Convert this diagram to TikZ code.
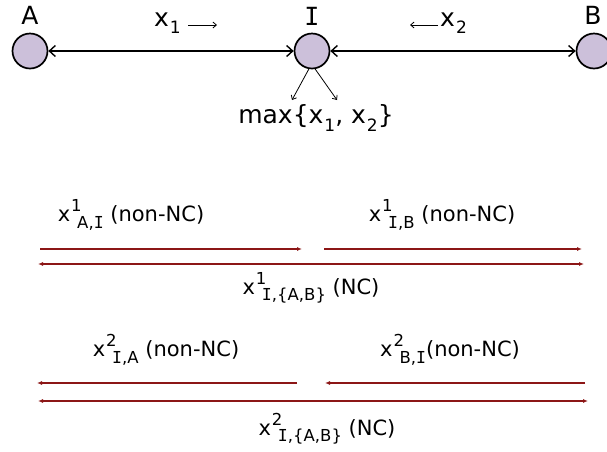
\documentclass[tikz,border=0pt]{standalone}
\usepackage{fontspec}
\setmainfont{DejaVu Sans}
\newfontfamily\serifI{DejaVu Sans Mono}
\usetikzlibrary{arrows.meta}
\definecolor{stationfill}{RGB}{204,192,218}
\definecolor{flowred}{RGB}{140,22,22}
\newcommand{\subsz}{\fontsize{16.5}{17}\selectfont}
\newcommand{\iI}{{\serifI I}}
\newcommand{\flow}[2]{x\kern1pt\rlap{\raisebox{.46em}{\subsz #1}}\kern6pt\raisebox{-.32em}{\subsz #2}}
\newcommand{\xsub}[1]{x\kern1pt\raisebox{-.3em}{\fontsize{17}{18}\selectfont #1}}

\begin{document}
\begin{tikzpicture}[x=1pt,y=-1pt,
station/.style={circle, draw, line width=1.7pt, fill=stationfill, minimum size=35pt, inner sep=0pt},
lbl/.style={inner sep=0pt, font=\fontsize{25}{28}\selectfont},
flbl/.style={inner sep=0pt, font=\fontsize{21}{24}\selectfont},
link/.style={{Straight Barb[length=6pt,width=11pt]}-{Straight Barb[length=6pt,width=11pt]}, line width=1.4pt},
thinarr/.style={-{Straight Barb[length=3.5pt,width=6pt]}, line width=0.8pt},
redarr/.style={-{Latex[length=5pt,width=4pt]}, line width=1.2pt, draw=flowred, color=flowred},
dblred/.style={redarr, {Latex[length=5pt,width=4pt]}-{Latex[length=5pt,width=4pt]}}
]
\useasboundingbox (0,0) rectangle (607,451);

% top: the three stations
\node[station] (A) at (30,51) {};
\node[station] (I) at (312,51) {};
\node[station] (B) at (594,51) {};
\node[lbl] (Atxt) at (30,15) {A};
\node[lbl] (Itxt) at (312,16) {\iI};
\node[lbl] (Btxt) at (593,15) {B};

\draw[link] (A) -- (I);
\draw[link] (I) -- (B);

\node[lbl, anchor=west] (x1) at (154,23) {\xsub{1}};
\coordinate (x1s) at (188,25);
\coordinate (x1e) at (217,25);
\draw[thinarr] (x1s) -- (x1e);
\node[lbl, anchor=west] (x2) at (440,23) {\xsub{2}};
\coordinate (x2s) at (438,25);
\coordinate (x2e) at (410,25);
\draw[thinarr] (x2s) -- (x2e);

\node[lbl] (mx) at (316,118) {max\{\xsub{1}, \xsub{2}\}};
\coordinate (mxl) at (292,100);
\coordinate (mxr) at (337,100);
\draw[thinarr] (I.-100) -- (mxl);
\draw[thinarr] (I.-80) -- (mxr);

% first round
\node[flbl] (f1) at (131,215) {\flow{1}{A,\iI} (non-NC)};
\node[flbl] (f2) at (442,215) {\flow{1}{\iI,B} (non-NC)};
\coordinate (f1s) at (40,249);
\coordinate (f1e) at (302,249);
\coordinate (f2s) at (324,249);
\coordinate (f2e) at (582,249);
\draw[redarr] (f1s) -- (f1e);
\draw[redarr] (f2s) -- (f2e);
\coordinate (f3s) at (38,264);
\coordinate (f3e) at (584,264);
\draw[dblred] (f3s) -- (f3e);
\node[flbl] (f3) at (311,288) {\flow{1}{\iI,\{A,B\}} (NC)};

% second round
\node[flbl] (g1) at (166,350) {\flow{2}{\iI,A} (non-NC)};
\node[flbl] (g2) at (450,350) {\flow{2}{B,\iI}(non-NC)};
\coordinate (g1s) at (297,383);
\coordinate (g1e) at (37,383);
\coordinate (g2s) at (585,383);
\coordinate (g2e) at (325,383);
\draw[redarr] (g1s) -- (g1e);
\draw[redarr] (g2s) -- (g2e);
\coordinate (g3s) at (38,401);
\coordinate (g3e) at (588,401);
\draw[dblred] (g3s) -- (g3e);
\node[flbl] (g3) at (327,429) {\flow{2}{\iI,\{A,B\}} (NC)};
\end{tikzpicture}
\end{document}
